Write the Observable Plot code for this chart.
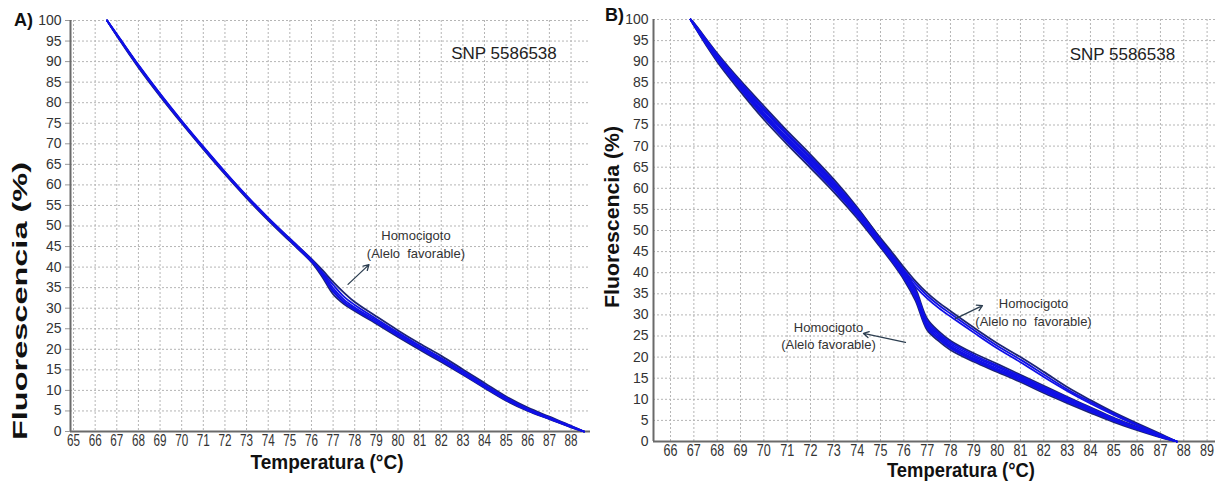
<!DOCTYPE html>
<html><head><meta charset="utf-8">
<script src="https://cdn.jsdelivr.net/npm/d3@7"></script>
<script src="https://cdn.jsdelivr.net/npm/@observablehq/plot@0.6"></script>
<style>
body{margin:0;background:#fff}
#wrap{position:relative;width:1218px;height:486px;overflow:hidden;background:#fff}
#wrap svg{position:absolute;top:0}
</style>
</head><body><div id="wrap"></div>
<script>
// ---------- data ----------
const xTicksA = [65,66,67,68,69,70,71,72,73,74,75,76,77,78,79,80,81,82,83,84,85,86,87,88];
const xTicksB = [66,67,68,69,70,71,72,73,74,75,76,77,78,79,80,81,82,83,84,85,86,87,88,89];
const yTicks = [0,5,10,15,20,25,30,35,40,45,50,55,60,65,70,75,80,85,90,95,100];

const tempsA = [66.55,67,68,69,70,71,72,73,74,75,76,76.5,77,77.5,78,79,80,81,82,83,84,85,86,87,88,88.6];
const a1 = [100,96.5,88.9,81.9,75.3,69.0,62.9,57.1,51.7,46.6,41.5,38.2,34.3,31.6,29.8,26.6,23.4,20.3,17.3,14.1,10.9,7.8,5.2,3.1,1.1,0];
const a2 = [100,96.7,89.2,82.2,75.6,69.3,63.2,57.4,52.0,46.9,41.8,38.6,34.9,32.1,30.2,27.0,23.8,20.7,17.7,14.5,11.2,8.1,5.4,3.3,1.2,0];
const a3 = [100,96.3,88.6,81.6,75.0,68.7,62.6,56.8,51.4,46.3,41.2,37.6,33.4,31.0,29.3,26.2,23.0,19.9,16.9,13.8,10.6,7.5,5.0,3.0,1.0,0];
const a4 = [100,96.6,89.1,82.1,75.5,69.2,63.1,57.3,51.9,46.9,42.0,39.3,36.4,33.8,31.5,28.0,24.6,21.4,18.4,15.1,11.8,8.5,5.8,3.6,1.4,0];
const a5 = [100,96.4,88.8,81.8,75.2,68.9,62.8,57.0,51.6,46.5,41.4,38.8,35.7,32.8,30.8,27.4,24.1,20.9,17.9,14.7,11.4,8.2,5.5,3.4,1.3,0];
const a6 = [100,96.5,89.0,82.0,75.4,69.1,63.0,57.2,51.8,46.7,41.6,38.0,34.0,31.4,29.6,26.5,23.3,20.2,17.2,14.0,10.8,7.7,5.1,3.1,1.1,0];

const tempsB = [66.86,67,68,69,70,71,72,73,74,75,75.5,76,76.5,77,77.5,78,79,80,81,82,83,84,85,86,87,87.7];
const b1 = [100,98.6,90.0,82.9,76.3,70.4,64.8,59.1,52.9,46.0,42.4,38.4,33.4,26.4,23.8,21.7,18.9,16.5,14.1,11.5,9.1,6.8,4.6,2.7,1.0,0];
const b6 = [100,98.7,90.4,83.4,76.9,71.0,65.4,59.7,53.4,46.4,42.8,38.8,33.9,26.9,24.2,22.1,19.2,16.8,14.4,11.8,9.4,7.1,4.9,2.9,1.1,0];
const b2 = [100,98.8,90.7,83.8,77.4,71.5,65.9,60.1,53.8,46.7,43.0,39.1,34.2,27.2,24.5,22.4,19.4,17.0,14.6,12.0,9.6,7.3,5.0,3.0,1.1,0];
const b5 = [100,98.9,91.0,84.2,77.9,72.0,66.4,60.6,54.2,47.0,43.3,39.4,34.6,27.6,24.9,22.7,19.7,17.3,14.9,12.3,9.9,7.5,5.2,3.1,1.2,0];
const b3 = [100,99.0,91.4,84.7,78.5,72.6,67.0,61.2,54.7,47.4,43.7,39.9,35.2,28.1,25.3,23.1,20.1,17.7,15.2,12.6,10.1,7.7,5.3,3.2,1.2,0];
const b7 = [100,99.1,91.7,85.1,79.0,73.1,67.5,61.6,55.1,47.7,44.0,40.3,35.7,28.6,25.7,23.5,20.5,18.0,15.5,12.9,10.4,7.9,5.5,3.3,1.3,0];
const b4 = [100,99.2,92.0,85.5,79.5,73.6,68.0,62.1,55.5,48.0,44.3,40.7,36.2,29.1,26.1,23.9,20.9,18.4,15.8,13.2,10.6,8.1,5.6,3.5,1.4,0];
const n1 = [100,98.9,90.9,84.1,77.8,71.9,66.4,60.8,54.6,47.6,44.2,40.7,37.4,34.6,32.3,30.3,26.4,22.7,19.4,15.9,12.4,9.4,6.6,4.0,1.6,0];
const n2 = [100,99.0,91.4,84.8,78.6,72.7,67.1,61.4,55.2,48.2,44.8,41.3,38.0,35.2,32.9,30.9,27.0,23.3,20.0,16.5,12.9,9.8,6.9,4.3,1.8,0];
const n3 = [100,98.8,90.5,83.5,77.1,71.2,65.7,60.1,54.0,47.0,43.6,40.1,36.7,33.9,31.6,29.6,25.8,22.1,18.8,15.3,12.0,9.0,6.3,3.8,1.5,0];

const curvesA = [
  {id:"a4", tone:"dark", values:a4}, {id:"a3", tone:"dark", values:a3},
  {id:"a1", tone:"blue", values:a1}, {id:"a2", tone:"blue", values:a2},
  {id:"a5", tone:"blue", values:a5}, {id:"a6", tone:"blue", values:a6}
];
const curvesB = [
  {id:"b1", tone:"dark", values:b1}, {id:"b4", tone:"dark", values:b4}, {id:"n2", tone:"dark", values:n2},
  {id:"b6", tone:"blue", values:b6}, {id:"b2", tone:"blue", values:b2}, {id:"b5", tone:"blue", values:b5},
  {id:"b3", tone:"blue", values:b3}, {id:"b7", tone:"blue", values:b7},
  {id:"n1", tone:"blue", values:n1}, {id:"n3", tone:"blue", values:n3}
];

const notesA = [
  {T:80.83, F:47.7, label:"Homocigoto"},
  {T:80.83, F:43.3, label:"(Alelo\u00a0 favorable)"}
];
const arrowsA = [{x1:77.69, y1:35.8, x2:78.66, y2:40.6}];
const snpA = [{T:84.9, F:92.0, label:"SNP 5586538"}];

const notesB = [
  {T:81.56, F:32.7, label:"Homocigoto"},
  {T:81.56, F:28.4, label:"(Alelo no\u00a0 favorable)"},
  {T:72.77, F:27.0, label:"Homocigoto"},
  {T:72.77, F:23.0, label:"(Alelo favorable)"}
];
const arrowsB = [
  {x1:78.22, y1:29.1, x2:79.37, y2:32.2},
  {x1:76.07, y1:23.5, x2:74.27, y2:25.6}
];
const snpB = [{T:85.37, F:91.7, label:"SNP 5586538"}];

// ---------- drawing ----------
const FONT = "'Liberation Sans', Arial, Helvetica, sans-serif";
const BLUE = "#1010e6", DARK = "#1d2473";

function toRows(temps, curves) {
  return curves.flatMap(c => c.values.map((F, i) => ({T: temps[i], F, id: c.id, tone: c.tone})));
}

function panel(cfg) {
  const data = toRows(cfg.temps, cfg.curves);
  const svg = Plot.plot({
    width: cfg.width, height: 486,
    marginLeft: cfg.ml, marginRight: cfg.mr, marginTop: cfg.mt, marginBottom: cfg.mb,
    x: {domain: cfg.xDomain, label: null},
    y: {domain: [0, 100], label: null},
    style: {fontFamily: FONT, fontSize: "14px", background: "transparent", color: "#333", overflow: "visible"},
    marks: [
      Plot.gridX(cfg.xTicks, {stroke: "#b5b5b5", strokeOpacity: 1, strokeDasharray: "2,2"}),
      Plot.gridY(yTicks, {stroke: "#b5b5b5", strokeOpacity: 1, strokeDasharray: "2,2"}),
      Plot.axisX(cfg.xTicks, {tickSize: 0, tickPadding: 3, fontSize: 16, label: null, color: "#333"}),
      Plot.axisY(yTicks, {tickSize: cfg.yTickSize, tickPadding: cfg.yTickPad, fontSize: 14, label: null, color: "#333"}),
      Plot.ruleX([cfg.xDomain[0]], {stroke: "#6a6a6a", strokeWidth: 2}),
      Plot.ruleY([0], {stroke: "#6a6a6a", strokeWidth: 2}),
      Plot.line(data.filter(d => d.tone === "dark"), {x: "T", y: "F", z: "id", stroke: DARK, strokeWidth: cfg.sw, curve: "catmull-rom"}),
      Plot.line(data.filter(d => d.tone === "blue"), {x: "T", y: "F", z: "id", stroke: BLUE, strokeWidth: cfg.sw, curve: "catmull-rom"}),
      Plot.arrow(cfg.arrows, {x1: "x1", y1: "y1", x2: "x2", y2: "y2", stroke: "#2c3e50", strokeWidth: 1.3, headLength: 7}),
      Plot.text(cfg.notes, {x: "T", y: "F", text: "label", fontSize: 13, fill: "#333", fontFamily: FONT}),
      Plot.text(cfg.snp, {x: "T", y: "F", text: "label", fontSize: 17, fill: "#222", fontFamily: FONT})
    ]
  });
  svg.style.left = cfg.left + "px";
  const s = d3.select(svg);
  s.selectAll('g[aria-label="y-axis tick"] path, g[aria-label="y-axis tick"] line').attr("stroke", "#999");
  s.selectAll('g[aria-label="x-axis tick label"] text')
    .attr("textLength", cfg.tickLen).attr("lengthAdjust", "spacingAndGlyphs");
  const add = (o) => {
    const t = s.append("text")
      .attr("transform", `translate(${o.x},${o.y})${o.rot ? " rotate(" + o.rot + ")" : ""}`)
      .attr("text-anchor", o.anchor || "middle")
      .attr("dominant-baseline", "central")
      .attr("font-family", FONT).attr("font-size", o.size).attr("font-weight", "bold")
      .attr("fill", "#111").text(o.text);
    if (o.len) t.attr("textLength", o.len).attr("lengthAdjust", "spacingAndGlyphs");
  };
  cfg.titles.forEach(add);
  document.getElementById("wrap").appendChild(svg);
}

panel({
  left: 0, width: 600, ml: 70, mr: 10, mt: 20, mb: 55,
  xDomain: [64.86, 88.9], xTicks: xTicksA, temps: tempsA, curves: curvesA,
  notes: notesA, arrows: arrowsA, snp: snpA, sw: 1.8, tickLen: 13,
  yTickSize: 5, yTickPad: 4,
  titles: [
    {x: 14, y: 20, text: "A)", size: 18, anchor: "start"},
    {x: 327, y: 462, text: "Temperatura (°C)", size: 20, len: 153},
    {x: 20, y: 301, text: "Fluorescencia (%)", size: 20, rot: -90, len: 278}
  ]
});

panel({
  left: 600, width: 618, ml: 53, mr: 3, mt: 19, mb: 45,
  xDomain: [65.27, 89.36], xTicks: xTicksB, temps: tempsB, curves: curvesB,
  notes: notesB, arrows: arrowsB, snp: snpB, sw: 1.8, tickLen: 14,
  yTickSize: 0, yTickPad: 5,
  titles: [
    {x: 5, y: 15, text: "B)", size: 18, anchor: "start"},
    {x: 361, y: 470, text: "Temperatura (°C)", size: 20, len: 148},
    {x: 12, y: 217, text: "Fluorescencia (%)", size: 20, rot: -90, len: 182}
  ]
});
</script></body></html>
